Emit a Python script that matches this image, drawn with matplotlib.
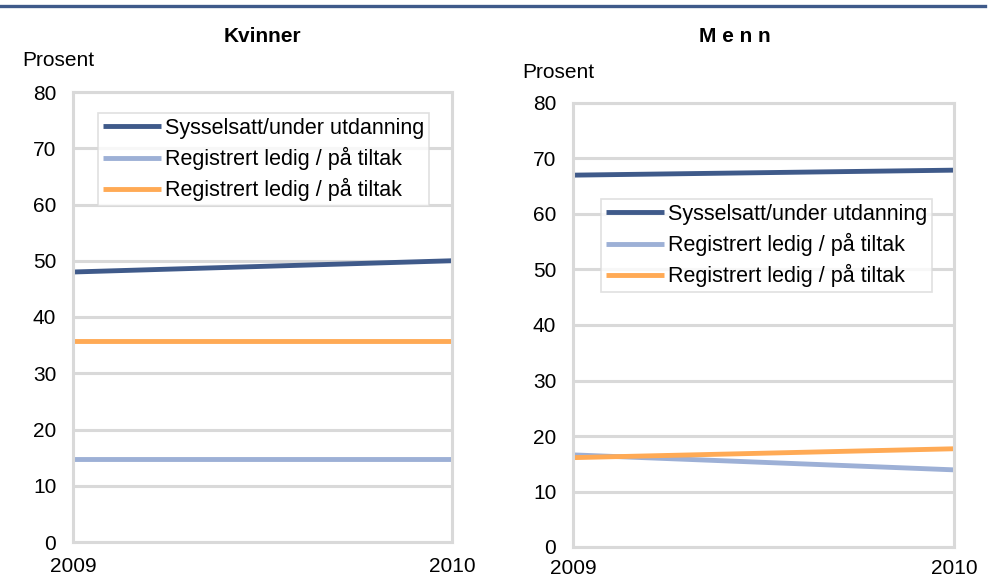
import matplotlib.pyplot as plt
from matplotlib.lines import Line2D

plt.rcParams['font.family'] = ['Liberation Sans', 'DejaVu Sans']

# --- data ---
years = [2009, 2010]
year_labels = ['2009', '2010']
labels = ['Sysselsatt/under utdanning', 'Registrert ledig / på tiltak', 'Registrert ledig / på tiltak']
kvinner = [[48, 50], [14.7, 14.7], [35.8, 35.8]]
menn = [[67, 67.9], [16.6, 13.9], [16.1, 17.7]]
colors = ['#3F5A8A', '#9DB0D6', '#FFAA55']
yticks = [0, 10, 20, 30, 40, 50, 60, 70, 80]
grid_col = '#D9D9D9'

fig = plt.figure(figsize=(9.9, 5.78), dpi=100)
fig.add_artist(Line2D([0, 0.995], [1 - 6 / 578, 1 - 6 / 578], color='#3F5A8A', lw=2.4))

def draw_panel(rect, series, title, title_x, title_y, pros_xy, leg_xy, xpad):
    ax = fig.add_axes(rect)
    for vals, col, lab in zip(series, colors, labels):
        ax.plot(years, vals, color=col, lw=3.5, label=lab, solid_capstyle='butt')
    ax.set_xlim(years[0], years[-1])
    ax.set_ylim(0, 80)
    ax.set_yticks(yticks)
    ax.set_xticks(years)
    ax.set_xticklabels(year_labels)
    ax.tick_params(length=0, labelsize=15, pad=12)
    ax.tick_params(axis='x', pad=xpad)
    ax.grid(axis='y', color=grid_col, lw=2.2)
    for sp in ax.spines.values():
        sp.set_color(grid_col)
        sp.set_linewidth(2.2)
    ax.set_axisbelow(True)
    fig.text(title_x, title_y, title, ha='center', va='center', fontsize=15,
             fontweight='bold')
    fig.text(pros_xy[0], pros_xy[1], 'Prosent', ha='left', va='center', fontsize=15)
    leg = ax.legend(loc='upper left', bbox_to_anchor=leg_xy, bbox_transform=fig.transFigure,
                    fontsize=15.5, frameon=True, fancybox=False, handlelength=2.7,
                    handletextpad=0.2, labelspacing=0.38, borderpad=0.22,
                    borderaxespad=0)
    leg.get_frame().set_edgecolor(grid_col)
    leg.get_frame().set_linewidth(1.2)
    return ax

draw_panel([73 / 990, 1 - 542 / 578, 379 / 990, 450 / 578], kvinner, 'Kvinner',
           262 / 990, 1 - 37 / 578, (22 / 990, 1 - 60 / 578), (98 / 990, 1 - 113 / 578), 11)
draw_panel([573 / 990, 1 - 547 / 578, 381 / 990, 444 / 578], menn, 'M e n n',
           735 / 990, 1 - 37 / 578, (522 / 990, 1 - 72 / 578), (601 / 990, 1 - 199 / 578), 9)

fig.savefig('out.png', dpi=100)
